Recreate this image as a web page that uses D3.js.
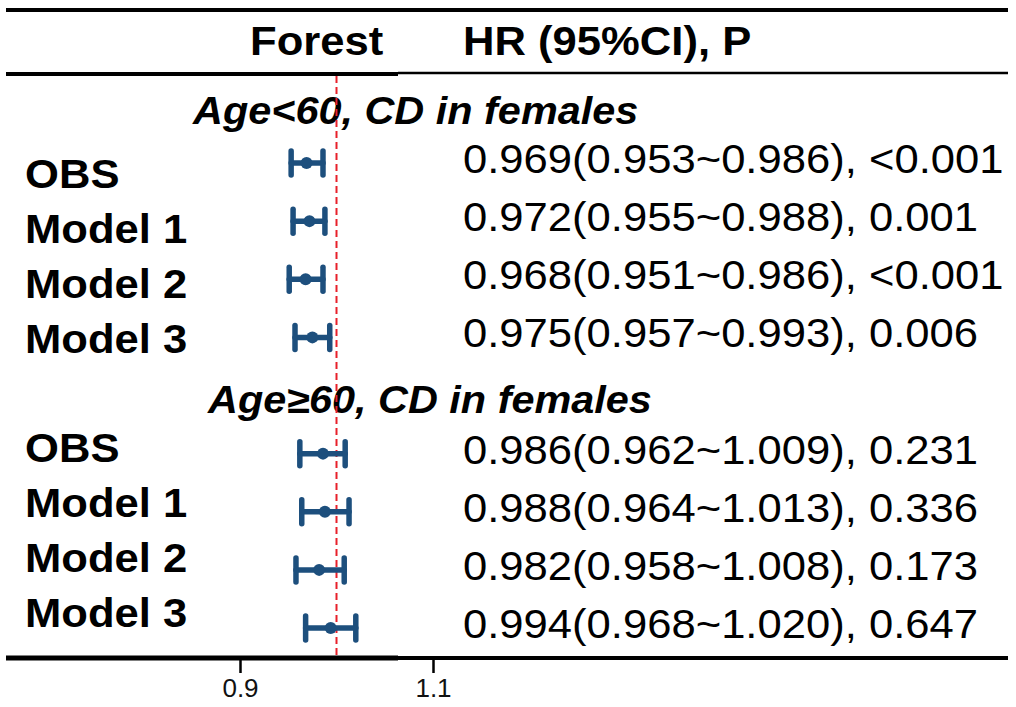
<!DOCTYPE html>
<html>
<head>
<meta charset="utf-8">
<script src="https://cdn.jsdelivr.net/npm/d3@7"></script>
<style>
  body { margin: 0; background: #fff; }
  svg { display: block; font-family: "Liberation Sans", Arial, sans-serif; }
</style>
</head>
<body>
<script>
// forest plot: two age groups, 4 models each
const groups = ["Age<60, CD in females", "Age\u226560, CD in females"];
const labels = ["OBS", "Model 1", "Model 2", "Model 3"];
const hr    = [0.969, 0.972, 0.968, 0.975, 0.986, 0.988, 0.982, 0.994];
const lower = [0.953, 0.955, 0.951, 0.957, 0.962, 0.964, 0.958, 0.968];
const upper = [0.986, 0.988, 0.986, 0.993, 1.009, 1.013, 1.008, 1.020];
const pvals = ["<0.001", "0.001", "<0.001", "0.006", "0.231", "0.336", "0.173", "0.647"];
const ticks = [0.9, 1.1];

const w = 1016, h = 707;
const sx = 1.09;   // text in the source is a bit stretched sideways
const blue = "#1d4f7d";

const svg = d3.select("body").append("svg")
    .attr("width", w)
    .attr("height", h);

const x = d3.scaleLinear().domain([0.9, 1.1]).range([240, 433]);
// row index: 0-3 first group, 5-8 second group (4 is the gap with the title)
const yBar = d3.scaleLinear().domain([0, 8]).range([163, 628]);
const yLab = d3.scaleLinear().domain([0, 8]).range([188, 627]);
const titleY = [124, 413];

const rows = hr.map((d, i) => ({
    hr: d, lo: lower[i], hi: upper[i], p: pvals[i],
    label: labels[i % 4],
    idx: i < 4 ? i : i + 1
}));

function txt(g, px, py, s, size, weight, style) {
    g.append("text")
        .attr("transform", `translate(${px},${py}) scale(${sx},1)`)
        .style("font-size", size + "px")
        .style("font-weight", weight || "normal")
        .style("font-style", style || "normal")
        .attr("fill", "#000")
        .text(s);
}

// rules
svg.append("line").attr("x1", 6).attr("x2", 1008).attr("y1", 10).attr("y2", 10)
    .attr("stroke", "#000").attr("stroke-width", 4);
svg.append("line").attr("x1", 6).attr("x2", 398).attr("y1", 74).attr("y2", 74)
    .attr("stroke", "#000").attr("stroke-width", 4);
svg.append("line").attr("x1", 398).attr("x2", 1008).attr("y1", 73).attr("y2", 73)
    .attr("stroke", "#000").attr("stroke-width", 2.5);
svg.append("line").attr("x1", 6).attr("x2", 398).attr("y1", 658).attr("y2", 658)
    .attr("stroke", "#000").attr("stroke-width", 5);
svg.append("line").attr("x1", 398).attr("x2", 1008).attr("y1", 658).attr("y2", 658)
    .attr("stroke", "#000").attr("stroke-width", 4);

// header
const head = svg.append("g");
txt(head, 250, 55, "Forest", 40, "bold");
txt(head, 463, 55, "HR (95%CI), P", 40, "bold");

// group titles
const gt = svg.append("g");
txt(gt, 193, titleY[0], groups[0], 38, "bold", "italic");
txt(gt, 208, titleY[1], groups[1], 38, "bold", "italic");

// reference line at HR = 1
svg.append("line")
    .attr("x1", x(1)).attr("x2", x(1))
    .attr("y1", 76).attr("y2", 655)
    .attr("stroke", "#e8202a")
    .attr("stroke-width", 2)
    .attr("stroke-dasharray", "7,4");

// labels + HR text
const lab = svg.append("g");
rows.forEach(r => {
    txt(lab, 25, yLab(r.idx), r.label, 40, "bold");
    txt(lab, 463, yBar(r.idx) + 10,
        `${r.hr.toFixed(3)}(${r.lo.toFixed(3)}~${r.hi.toFixed(3)}), ${r.p}`, 40);
});

// error bars
const eb = svg.append("g").selectAll("g")
    .data(rows)
    .enter()
    .append("g")
    .attr("stroke", blue)
    .attr("stroke-width", 5.5)
    .attr("stroke-linecap", "round");

eb.append("line")
    .attr("x1", d => x(d.lo)).attr("x2", d => x(d.hi))
    .attr("y1", d => yBar(d.idx)).attr("y2", d => yBar(d.idx));
eb.append("line")
    .attr("x1", d => x(d.lo)).attr("x2", d => x(d.lo))
    .attr("y1", d => yBar(d.idx) - 12).attr("y2", d => yBar(d.idx) + 12);
eb.append("line")
    .attr("x1", d => x(d.hi)).attr("x2", d => x(d.hi))
    .attr("y1", d => yBar(d.idx) - 12).attr("y2", d => yBar(d.idx) + 12);
eb.append("circle")
    .attr("cx", d => x(d.hr))
    .attr("cy", d => yBar(d.idx))
    .attr("r", 6)
    .attr("stroke", "none")
    .attr("fill", blue);

// x axis
const axis = svg.append("g")
    .attr("transform", "translate(0,659)")
    .attr("font-size", 26)
    .call(d3.axisBottom(x).tickValues(ticks).tickSize(14).tickPadding(6).tickFormat(d3.format(".1f")));
axis.attr("font-size", 26).attr("font-family", "'Liberation Sans', Arial, sans-serif");
axis.select(".domain").remove();
axis.selectAll(".tick line").attr("stroke", "#000").attr("stroke-width", 2.5);
axis.selectAll(".tick text").attr("fill", "#111");
</script>
</body>
</html>
